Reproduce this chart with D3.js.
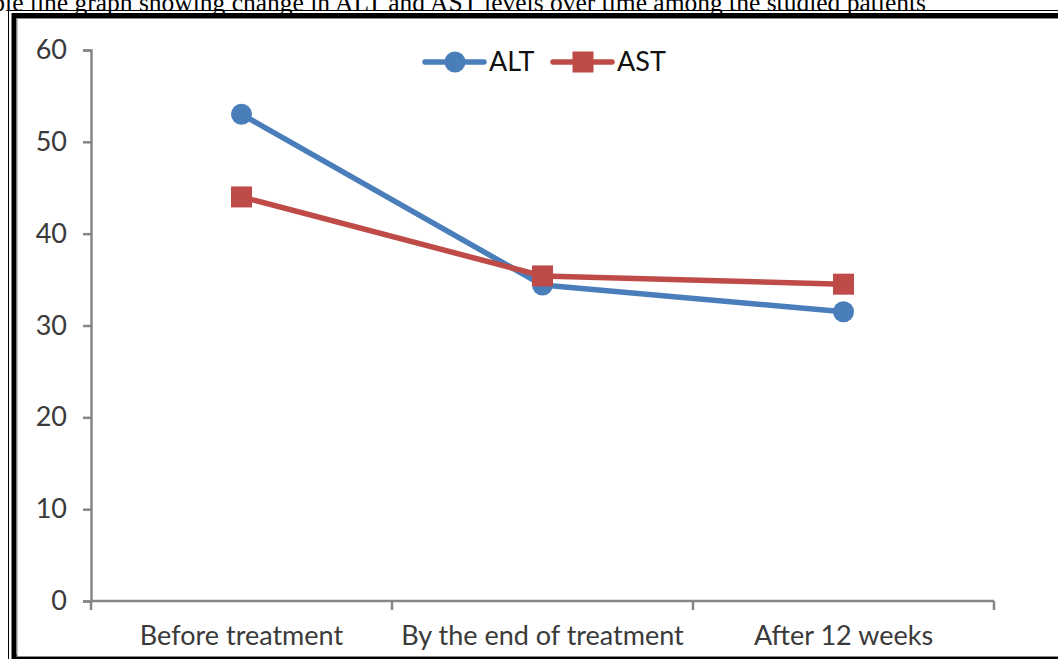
<!DOCTYPE html>
<html>
<head>
<meta charset="utf-8">
<script src="https://cdn.jsdelivr.net/npm/d3@7"></script>
<style>
  html, body { margin: 0; padding: 0; background: #fff; overflow: hidden; }
  svg { display: block; }
</style>
</head>
<body>
<svg id="chart" width="1058" height="659"></svg>
<script>
// Liver enzyme levels at three time points
const categories = ["Before treatment", "By the end of treatment", "After 12 weeks"];
const altValues = [53, 34.4, 31.5];
const astValues = [44, 35.4, 34.5];
const yTicks = [0, 10, 20, 30, 40, 50, 60];
const seriesNames = ["ALT", "AST"];

const series = [
  { name: seriesNames[0], values: altValues, color: "#4A7EBB", marker: "circle" },
  { name: seriesNames[1], values: astValues, color: "#BE4B48", marker: "square" }
];

const svg = d3.select("#chart");
const W = 1058, H = 659;

// caption, running off the top-left edge of the page
svg.append("text")
  .attr("x", 926).attr("y", 11)
  .attr("text-anchor", "end")
  .attr("font-family", "'Liberation Serif', 'Times New Roman', serif")
  .attr("font-size", 25.5)
  .attr("fill", "#000")
  .text("Simple line graph showing change in ALT and AST levels over time among the studied patients");

// double frame around the chart
svg.append("rect").attr("x", 8.5).attr("y", 10.5).attr("width", W + 20).attr("height", H)
  .attr("fill", "none").attr("stroke", "#000").attr("stroke-width", 1);
svg.append("rect").attr("x", 14).attr("y", 15.5).attr("width", W + 20).attr("height", 641)
  .attr("fill", "#fff").attr("stroke", "#000").attr("stroke-width", 5);
svg.append("rect").attr("x", 17).attr("y", 18.5).attr("width", W + 20).attr("height", 638)
  .attr("fill", "#fff").attr("stroke", "#888").attr("stroke-width", 1);

const plot = { left: 91, right: 994, top: 50, bottom: 601 };

const x = d3.scaleBand().domain(categories).range([plot.left, plot.right]).paddingInner(0).paddingOuter(0);
const y = d3.scaleLinear().domain([0, 60]).range([plot.bottom, plot.top]);

const axisColor = "#868686";
const textColor = "#3a3a3a";
const fontFam = "Lato, 'Open Sans', 'Liberation Sans', Arial, sans-serif";
const fontSize = 27;

// y axis
const yAxis = svg.append("g").attr("transform", `translate(${plot.left},0)`)
  .call(d3.axisLeft(y).tickValues(yTicks).tickSize(8).tickPadding(16));
yAxis.select(".domain").attr("stroke", axisColor).attr("stroke-width", 2.5);
yAxis.selectAll(".tick line").attr("stroke", axisColor).attr("stroke-width", 2.5);
yAxis.selectAll(".tick text").attr("fill", textColor).attr("font-size", fontSize).attr("font-family", fontFam);

// x axis with ticks at category boundaries
const xAxis = svg.append("g").attr("transform", `translate(0,${plot.bottom})`);
xAxis.append("line").attr("x1", plot.left).attr("x2", plot.right).attr("y1", 0).attr("y2", 0)
  .attr("stroke", axisColor).attr("stroke-width", 2.5);
const boundaries = categories.map(c => x(c)).concat([x(categories[categories.length - 1]) + x.bandwidth()]);
xAxis.selectAll("line.tk").data(boundaries).join("line").attr("class", "tk")
  .attr("x1", d => d).attr("x2", d => d).attr("y1", 0).attr("y2", 9)
  .attr("stroke", axisColor).attr("stroke-width", 2.5);
xAxis.selectAll("text").data(categories).join("text")
  .attr("x", d => x(d) + x.bandwidth() / 2).attr("y", 44)
  .attr("text-anchor", "middle").attr("fill", textColor)
  .attr("font-size", fontSize).attr("font-family", fontFam)
  .text(d => d);

const cx = c => x(c) + x.bandwidth() / 2;
const line = d3.line().x((d, i) => cx(categories[i])).y(d => y(d));

series.forEach(s => {
  svg.append("path").datum(s.values).attr("d", line)
    .attr("fill", "none").attr("stroke", s.color).attr("stroke-width", 5.5)
    .attr("stroke-linejoin", "round");
});

function drawMarker(g, kind, px, py, color) {
  if (kind === "circle") {
    g.append("circle").attr("cx", px).attr("cy", py).attr("r", 10.5).attr("fill", color);
  } else {
    g.append("rect").attr("x", px - 10.5).attr("y", py - 10.5).attr("width", 21).attr("height", 21).attr("fill", color);
  }
}

series.forEach(s => {
  const g = svg.append("g");
  s.values.forEach((v, i) => drawMarker(g, s.marker, cx(categories[i]), y(v), s.color));
});

// legend
const legendY = 62;
const legendItems = [
  { s: series[0], x0: 425 },
  { s: series[1], x0: 553 }
];
legendItems.forEach(({ s, x0 }) => {
  const g = svg.append("g");
  g.append("line").attr("x1", x0).attr("x2", x0 + 59).attr("y1", legendY).attr("y2", legendY)
    .attr("stroke", s.color).attr("stroke-width", 5.5).attr("stroke-linecap", "round");
  drawMarker(g, s.marker, x0 + 30, legendY, s.color);
  g.append("text").attr("x", x0 + 64).attr("y", legendY + 9)
    .attr("fill", "#111").attr("font-size", fontSize).attr("font-family", fontFam)
    .text(s.name);
});
</script>
</body>
</html>
